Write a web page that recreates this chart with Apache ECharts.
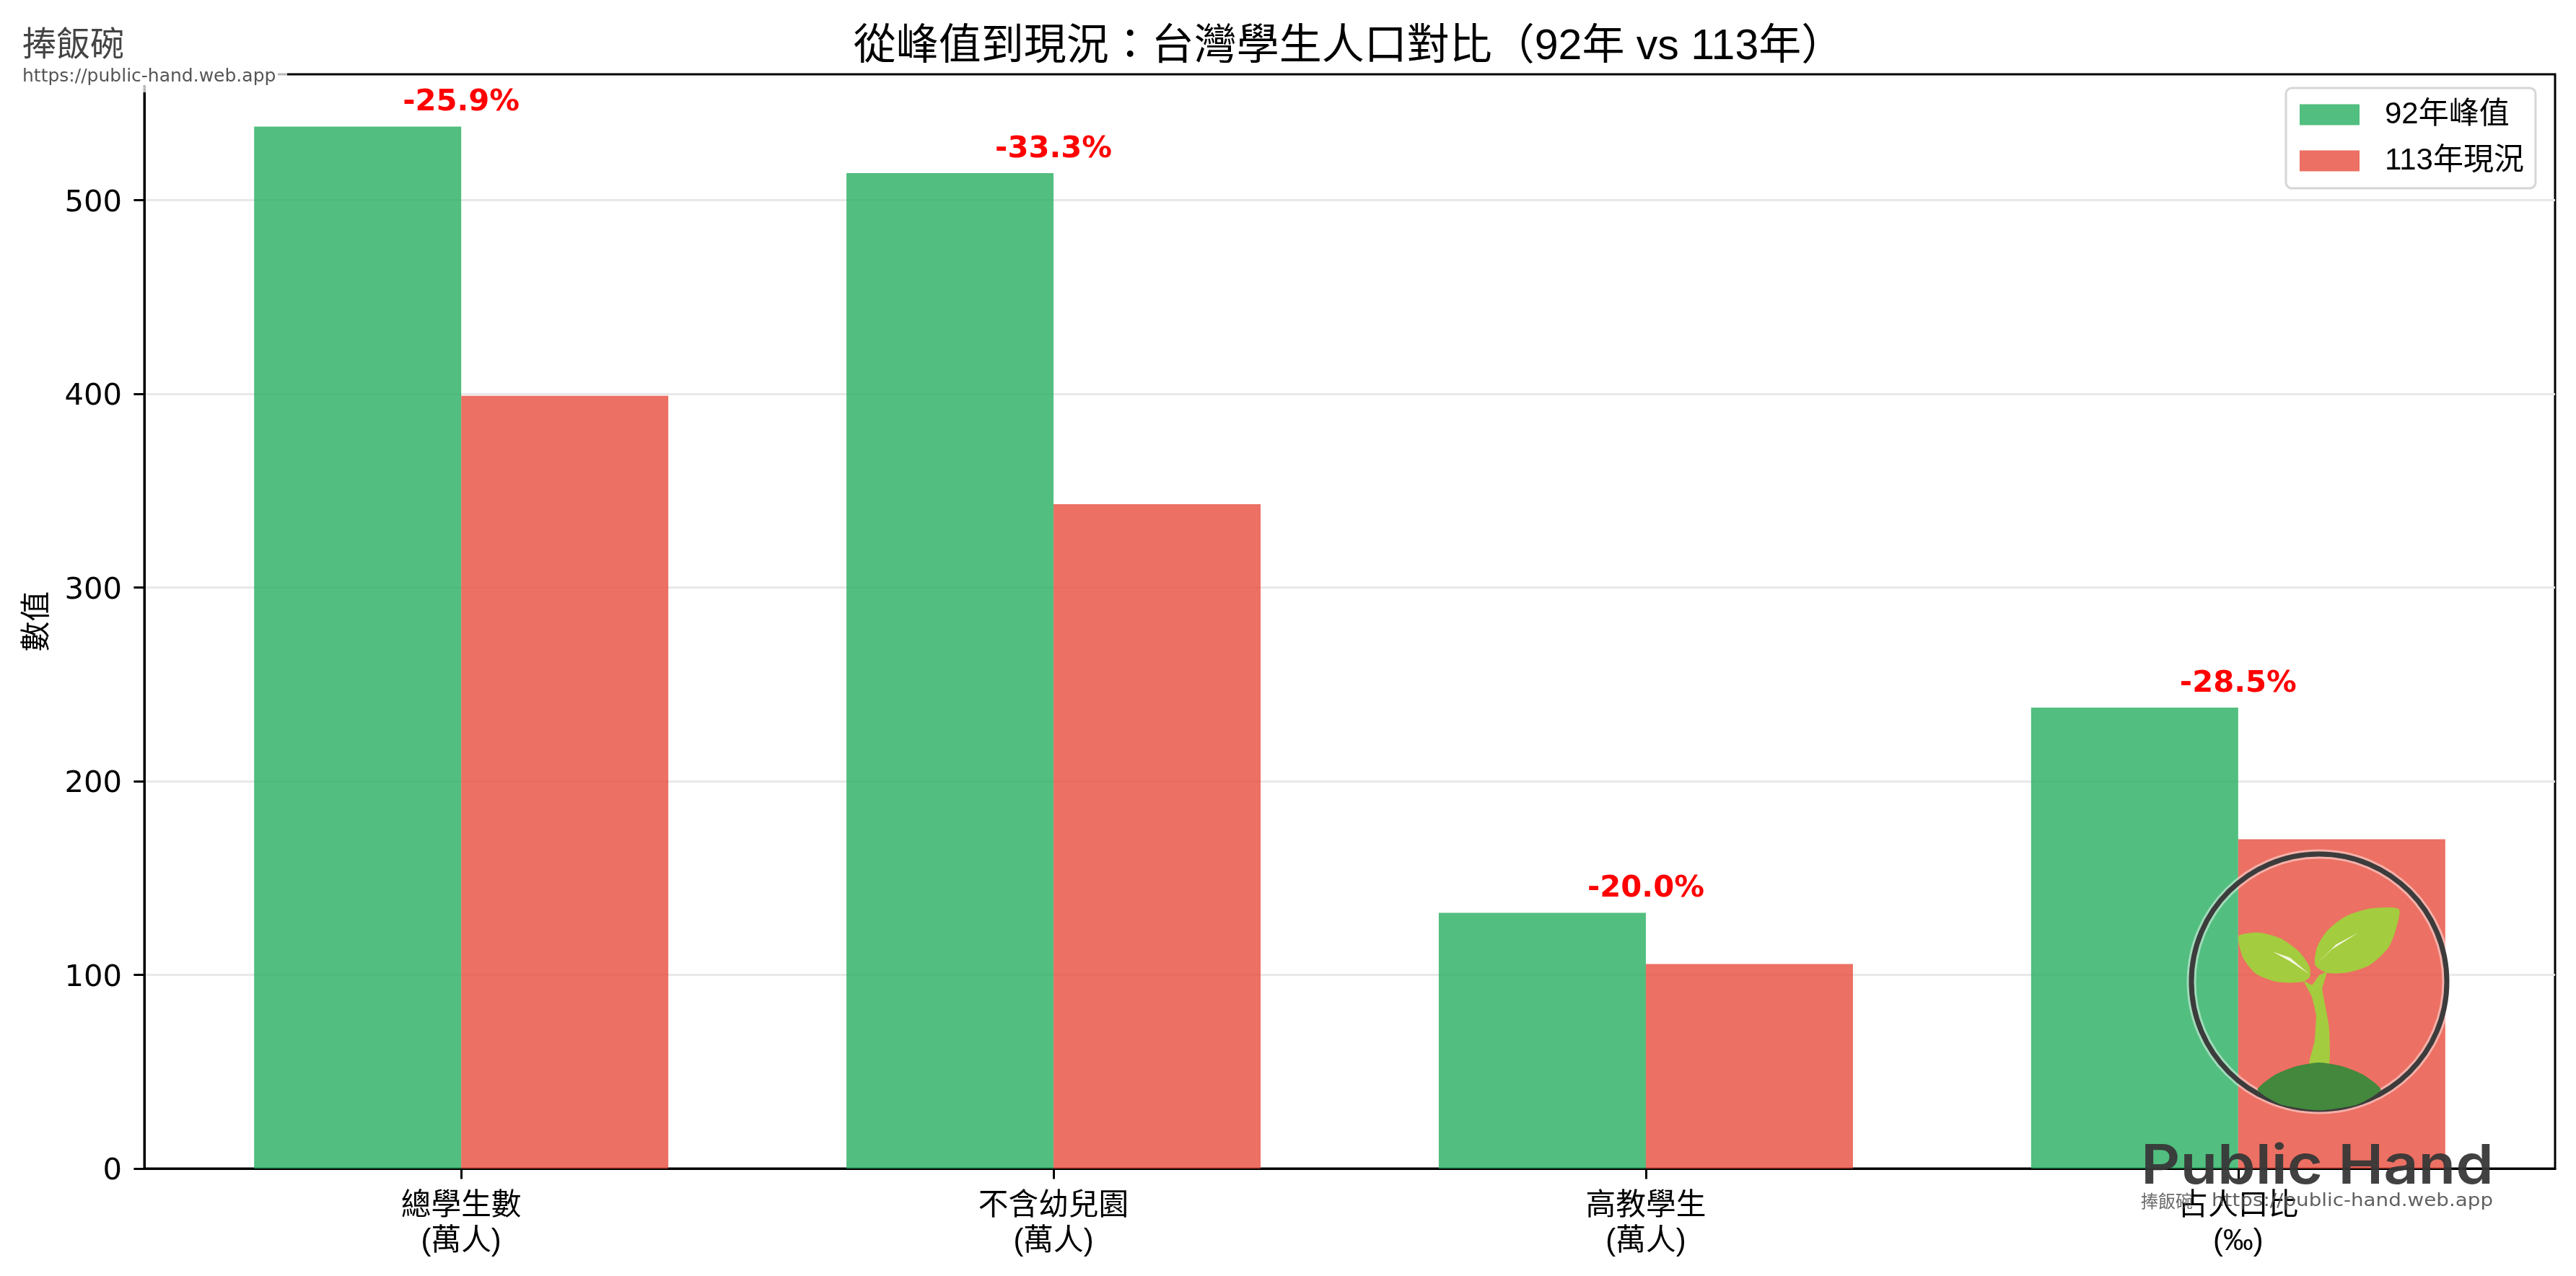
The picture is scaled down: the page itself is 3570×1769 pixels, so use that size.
<!DOCTYPE html>
<html><head><meta charset="utf-8">
<style>html,body{margin:0;padding:0;background:#fff}#c{width:3570px;height:1769px}</style>
<script src="https://cdn.jsdelivr.net/npm/echarts@6/dist/echarts.min.js"></script>
</head><body><div id="c"></div>
<script>
const categories = ['總學生數\n(萬人)', '不含幼兒園\n(萬人)', '高教學生\n(萬人)', '占人口比\n(‰)'];
const peak92 = [538, 514, 132, 238];
const now113 = [399, 343, 105.6, 170];
const changes = ['-25.9%', '-33.3%', '-20.0%', '-28.5%'];
const yTicks = [0, 100, 200, 300, 400, 500];
const seriesNames = ['92年峰值', '113年現況'];

const cjk = '"Liberation Sans","Noto Sans CJK TC",sans-serif';
const dj = '"DejaVu Sans",sans-serif';
const Z = 100;
// logo outlines traced in a local frame, mapped onto the page
const sx = 1 / 2.34, sy = 1 / 2.455, ox = 2900, oy = 1130;
const P = pts => pts.map(p => [ox + p[0] * sx, oy + p[1] * sy]);
const poly = (pts, fill, smooth) => ({type:'polygon', z:Z, silent:true, shape:{points:P(pts), smooth:smooth}, style:{fill:fill}});

const graphic = [
  {type:'rect', z:Z, silent:true, shape:{x:0,y:0,width:398,height:128}, style:{fill:'rgba(255,255,255,0.72)'}},
  {type:'rect', z:Z, silent:true, shape:{x:0,y:0,width:385,height:118}, style:{fill:'#fff'}},
  {type:'text', z:Z+1, silent:true, left:31, top:36, style:{text:'捧飯碗', font:'47px "Noto Sans CJK TC"', fill:'#444'}},
  {type:'text', z:Z+1, silent:true, left:31, top:94, style:{text:'https://public-hand.web.app', font:'25px "DejaVu Sans"', fill:'#555'}},
  {type:'ellipse', z:Z, silent:true, shape:{cx:3214,cy:1361,rx:177,ry:177}, style:{fill:'none',stroke:'rgba(255,255,255,0.45)',lineWidth:13}},
  {type:'ellipse', z:Z, silent:true, shape:{cx:3214,cy:1361,rx:177,ry:177}, style:{fill:'none',stroke:'#3c3c3c',lineWidth:7}},
  poly([[993,320],[900,318],[820,345],[760,395],[728,450],[722,510],[760,537],[830,535],[900,510],[960,450],[985,385]], '#a4cc3f', 0.25),
  poly([[475,410],[540,400],[610,420],[670,465],[703,515],[705,550],[680,568],[600,568],[530,540],[490,490],[475,440]], '#a4cc3f', 0.25),
  poly([[685,565],[712,578],[735,545],[760,535],[745,590],[755,650],[767,720],[768,845],[703,845],[720,770],[725,680],[710,615]], '#a4cc3f', 0.1),
  poly([[535,935],[590,885],[660,855],[735,842],[810,855],[880,885],[935,935],[860,985],[735,1005],[610,985]], '#43883c', 0.2),
  poly([[585,465],[640,485],[702,540],[640,497]], '#f3f7e0', 0),
  poly([[862,400],[790,440],[728,505],[775,458]], '#f3f7e0', 0),
  {type:'text', z:Z+1, silent:true, x:2967, y:1618, scaleX:1.11, style:{text:'Public Hand', font:'600 76px Inter', fill:'rgba(55,55,55,0.95)', verticalAlign:'middle'}},
  {type:'text', z:Z+1, silent:true, x:2967, y:1665, style:{text:'捧飯碗', font:'24px "Noto Sans CJK TC"', fill:'rgba(80,80,80,0.85)', verticalAlign:'middle'}},
  {type:'text', z:Z+1, silent:true, x:3065, y:1665, scaleX:1.11, style:{text:'https://public-hand.web.app', font:'25px "DejaVu Sans"', fill:'rgba(80,80,80,0.9)', verticalAlign:'middle'}}
];

const option = {
  animation:false,
  backgroundColor:'#fff',
  textStyle:{fontFamily:cjk},
  title:{text:'從峰值到現況：台灣學生人口對比（92年 vs 113年）', left:1864, textAlign:'center', top:31,
    textStyle:{fontFamily:cjk, fontSize:59, fontWeight:'normal', color:'#000'}},
  legend:{orient:'vertical', left:3168, top:122, icon:'rect', itemWidth:83, itemHeight:29, itemGap:22, align:'left',
    padding:[16,16,17,19], backgroundColor:'rgba(255,255,255,0.8)', borderColor:'#d6d6d6', borderWidth:3, borderRadius:8,
    data:seriesNames, textStyle:{fontFamily:cjk, fontSize:42, color:'#000', lineHeight:29, padding:[0,0,0,30]}},
  grid:{left:200, top:103, width:3341, height:1517, show:true, borderColor:'#000', borderWidth:3, backgroundColor:'transparent'},
  xAxis:{type:'value', min:-0.535, max:3.535,
    axisLine:{show:true, onZero:false, lineStyle:{color:'#000', width:3}},
    axisTick:{show:true, length:14.6, customValues:[0,1,2,3], lineStyle:{color:'#000', width:3}},
    axisLabel:{customValues:[0,1,2,3], margin:28, color:'#000', fontFamily:cjk, fontSize:41.7, lineHeight:49,
      formatter:v => categories[v]},
    splitLine:{show:false}},
  yAxis:{type:'value', min:0, max:565, interval:100, name:'數值', nameLocation:'middle', nameGap:127,
    nameTextStyle:{fontFamily:cjk, fontSize:41.7, color:'#000'},
    axisLine:{show:true, onZero:false, lineStyle:{color:'#000', width:3}},
    axisTick:{show:true, length:14.6, customValues:yTicks, lineStyle:{color:'#000', width:3}},
    axisLabel:{customValues:yTicks, margin:31, formatter:v => '{a|' + v + '}',
      rich:{a:{color:'#000', fontFamily:dj, fontSize:41.7, padding:[9,0,0,0]}}},
    splitLine:{show:true, lineStyle:{color:'#e8e8e8', width:3}}},
  series:[
    {name:seriesNames[0], type:'bar', barWidth:287, barGap:0, data:peak92.map((v,i)=>[i,v]), itemStyle:{color:'#27ae60', opacity:0.8}, emphasis:{disabled:true}},
    {name:seriesNames[1], type:'bar', barWidth:287, barGap:0, data:now113.map((v,i)=>[i,v]), itemStyle:{color:'#e74c3c', opacity:0.8}, emphasis:{disabled:true}},
    {name:'變化', type:'scatter', symbolSize:0, data:peak92.map((v,i)=>[i,v]), silent:true, z:10, itemStyle:{opacity:1},
      label:{show:true, position:'top', distance:12, opacity:1, color:'#ff0000', fontFamily:dj, fontWeight:'bold', fontSize:41.7,
        formatter:p => changes[p.dataIndex]}}
  ],
  graphic:{elements:graphic}
};
echarts.init(document.getElementById('c'), null, {renderer:'canvas'}).setOption(option);
</script></body></html>
